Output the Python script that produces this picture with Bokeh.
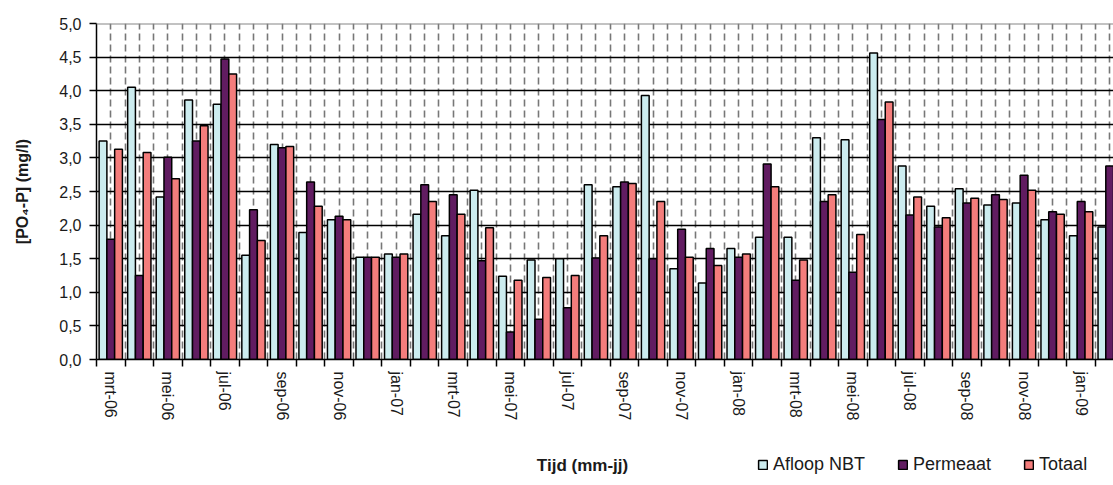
import math
from bokeh.plotting import figure
from bokeh.layouts import column
from bokeh.models import FixedTicker, Legend, LegendItem, Label, Span, Range1d
from bokeh.embed import file_html
from bokeh.resources import INLINE

months = ["mrt-06", "apr-06", "mei-06", "jun-06", "jul-06", "aug-06", "sep-06", "okt-06",
          "nov-06", "dec-06", "jan-07", "feb-07", "mrt-07", "apr-07", "mei-07", "jun-07",
          "jul-07", "aug-07", "sep-07", "okt-07", "nov-07", "dec-07", "jan-08", "feb-08",
          "mrt-08", "apr-08", "mei-08", "jun-08", "jul-08", "aug-08", "sep-08", "okt-08",
          "nov-08", "dec-08", "jan-09", "feb-09"]

afloop_nbt = [3.25, 4.05, 2.42, 3.86, 3.80, 1.55, 3.20, 1.89, 2.08, 1.52, 1.57, 2.16,
              1.84, 2.52, 1.24, 1.48, 1.50, 2.60, 2.57, 3.93, 1.35, 1.14, 1.65, 1.82,
              1.82, 3.30, 3.27, 4.56, 2.88, 2.28, 2.54, 2.30, 2.33, 2.08, 1.84, 1.97]
permeaat = [1.79, 1.25, 3.01, 3.25, 4.47, 2.23, 3.15, 2.64, 2.13, 1.52, 1.52, 2.60,
            2.45, 1.47, 0.41, 0.60, 0.77, 1.51, 2.64, 1.50, 1.94, 1.65, 1.52, 2.91,
            1.18, 2.35, 1.30, 3.57, 2.15, 1.97, 2.33, 2.45, 2.74, 2.20, 2.35, 2.88]
totaal = [3.13, 3.08, 2.69, 3.48, 4.25, 1.77, 3.17, 2.28, 2.08, 1.52, 1.57, 2.35,
          2.16, 1.96, 1.18, 1.22, 1.25, 1.84, 2.62, 2.35, 1.52, 1.40, 1.57, 2.57,
          1.48, 2.45, 1.86, 3.83, 2.42, 2.11, 2.40, 2.38, 2.52, 2.16, 2.20, float("nan")]

series_names = ["Afloop NBT", "Permeaat", "Totaal"]
series_colors = ["#CCECEF", "#611C61", "#F47D7C"]
y_ticks = [0.0, 0.5, 1.0, 1.5, 2.0, 2.5, 3.0, 3.5, 4.0, 4.5, 5.0]
x_title = "Tijd (mm-jj)"
y_title = "[PO\u2084-P] (mg/l)"

FONT = "Liberation Sans"
TXT = "#1a1a1a"
n = len(months)
bar_w = 0.272

p = figure(width=1113, height=450, x_range=(-0.5, 35.134), y_range=(0, 5),
           output_backend="svg", toolbar_location=None,
           min_border_left=96, min_border_right=0, min_border_top=23, min_border_bottom=91)
p.outline_line_color = None
p.background_fill_color = "white"
p.border_fill_color = "white"

# grids
p.ygrid.ticker = FixedTicker(ticks=[t for t in y_ticks if 0 < t < 5])
p.ygrid.grid_line_color = "black"
p.ygrid.grid_line_width = 1.5
p.xgrid.ticker = FixedTicker(ticks=[k * 0.5 for k in range(0, 2 * n + 1)])
p.xgrid.grid_line_color = "#777777"
p.xgrid.grid_line_width = 1.6
p.xgrid.grid_line_dash = "7 4"
p.add_layout(Span(location=5, dimension="width", line_color="#858585", line_width=2))

for k, (vals, col) in enumerate(zip([afloop_nbt, permeaat, totaal], series_colors)):
    xs = [i + (k - 1) * bar_w for i in range(n)]
    p.vbar(x=xs, top=vals, width=bar_w, bottom=0, fill_color=col,
           line_color="black", line_width=1.5)

# y axis
p.yaxis.ticker = FixedTicker(ticks=y_ticks)
p.yaxis.major_label_overrides = {t: f"{t:.1f}".replace(".", ",") for t in y_ticks}
p.yaxis.major_tick_out = 7
p.yaxis.major_tick_in = 0
p.yaxis.minor_tick_out = 0
p.yaxis.minor_tick_in = 0
p.yaxis.axis_line_width = 1.5
p.yaxis.axis_line_color = "black"
p.yaxis.major_tick_line_color = "black"
p.yaxis.major_tick_line_width = 1.5
p.yaxis.major_label_standoff = 8
p.yaxis.major_label_text_font = FONT
p.yaxis.major_label_text_font_size = "16px"
p.yaxis.major_label_text_color = TXT
p.yaxis.axis_label = y_title
p.yaxis.axis_label_text_font = FONT
p.yaxis.axis_label_text_font_style = "bold"
p.yaxis.axis_label_text_font_size = "16px"
p.yaxis.axis_label_text_color = TXT
p.yaxis.axis_label_standoff = 25

# x axis
p.xaxis.ticker = FixedTicker(ticks=list(range(0, n, 2)), minor_ticks=[i - 0.5 for i in range(n + 1)])
p.xaxis.major_label_overrides = {i: months[i] for i in range(0, n, 2)}
p.xaxis.major_tick_out = 0
p.xaxis.major_tick_in = 0
p.xaxis.minor_tick_out = 7
p.xaxis.minor_tick_in = 0
p.xaxis.minor_tick_line_color = "black"
p.xaxis.minor_tick_line_width = 1.5
p.xaxis.axis_line_color = "black"
p.xaxis.axis_line_width = 1.5
p.xaxis.major_label_orientation = -math.pi / 2
p.xaxis.major_label_standoff = 5
p.xaxis.major_label_text_font = FONT
p.xaxis.major_label_text_font_size = "16px"
p.xaxis.major_label_text_color = TXT

# strip under the chart with the x-axis title and the legend
q = figure(width=1113, height=35, x_range=Range1d(0, 1), y_range=Range1d(0, 1),
           output_backend="svg", toolbar_location=None,
           x_axis_location=None, y_axis_location=None,
           min_border_left=0, min_border_right=0, min_border_top=0, min_border_bottom=0)
q.outline_line_color = None
q.xgrid.visible = False
q.ygrid.visible = False
q.background_fill_color = "white"
q.border_fill_color = "white"

# legend proxies (no visible mark; they only give the legend its swatches)
swatches = []
for col in series_colors:
    swatches.append(q.vbar(x=[float("nan")], top=[float("nan")], bottom=[0.0], width=0.1,
                           fill_color=col, line_color="black", line_width=1.5))

legend = Legend(items=[LegendItem(label=nm, renderers=[r]) for nm, r in zip(series_names, swatches)],
                orientation="horizontal", location=(661, 10), glyph_width=11, glyph_height=11,
                label_standoff=5, spacing=32, padding=0, margin=0, border_line_color=None,
                background_fill_alpha=0, label_text_font=FONT, label_text_font_size="18px",
                label_text_color=TXT, label_height=20)
q.add_layout(legend)

q.add_layout(Label(x=486, y=20, x_units="screen", y_units="screen", text=x_title,
                   text_align="center", text_baseline="middle", text_font=FONT,
                   text_font_size="17px", text_font_style="bold", text_color=TXT))

open("out.html", "w").write(file_html(column(p, q, spacing=0), INLINE))
